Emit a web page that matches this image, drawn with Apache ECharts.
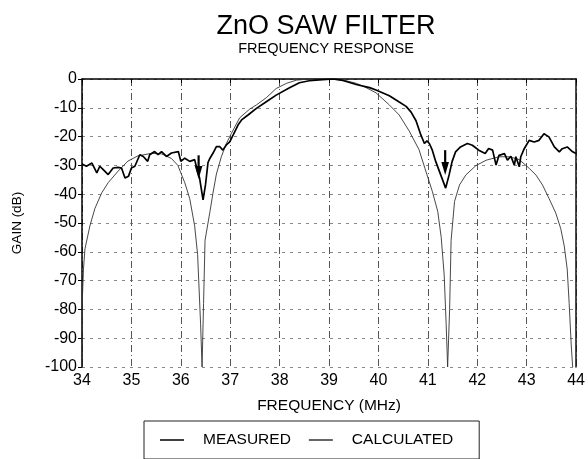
<!DOCTYPE html>
<html>
<head>
<meta charset="utf-8">
<script src="https://cdn.jsdelivr.net/npm/echarts@6/dist/echarts.min.js"></script>
<style>
  html, body { margin: 0; padding: 0; background: #fff; }
  #chart { width: 588px; height: 459px; }
</style>
</head>
<body>
<div id="chart"></div>
<script>
// Measured response of the ZnO SAW filter (frequency in MHz, gain in dB)
const measuredFreq = [
  34.00, 34.09, 34.20, 34.30, 34.36, 34.43, 34.53, 34.63, 34.73, 34.80,
  34.87, 34.94, 35.00, 35.07, 35.17, 35.24, 35.33, 35.37, 35.47, 35.54,
  35.61, 35.71, 35.81, 35.95, 36.00, 36.08, 36.18, 36.28, 36.34, 36.38,
  36.45, 36.50, 36.55, 36.59, 36.65, 36.72, 36.79, 36.85, 36.92, 36.99,
  37.06, 37.16, 37.23, 37.36, 37.53, 37.73, 37.93, 38.20, 38.40, 38.60,
  38.87, 39.08, 39.28, 39.55, 39.82, 39.95, 40.22, 40.42, 40.56, 40.66,
  40.76, 40.86, 40.93, 40.98, 41.03, 41.09, 41.16, 41.26, 41.36, 41.43,
  41.49, 41.56, 41.66, 41.80, 41.90, 42.03, 42.16, 42.23, 42.31, 42.38,
  42.44, 42.55, 42.61, 42.68, 42.75, 42.78, 42.85, 42.88, 42.95, 43.05,
  43.15, 43.25, 43.35, 43.45, 43.56, 43.66, 43.72, 43.82, 43.93, 44.00
];
const measuredGain = [
  -29.5, -30.3, -29.2, -32.6, -30.3, -31.5, -33.2, -30.9, -30.7, -30.9,
  -34.4, -33.8, -30.9, -30.3, -26.3, -26.9, -28.6, -26.3, -25.2, -26.3,
  -25.2, -26.9, -25.7, -25.2, -28.6, -27.5, -28.6, -28.0, -32.1, -34.4,
  -42.0, -36.7, -29.0, -27.5, -25.8, -23.5, -23.5, -24.7, -22.9, -21.8,
  -19.4, -15.9, -14.2, -12.5, -10.2, -7.9, -5.6, -3.0, -1.3, -0.6,
  -0.2, 0.0, -0.5, -1.9, -3.0, -3.8, -5.8, -8.0, -9.5, -11.5,
  -14.5, -19.5, -22.4, -21.5, -22.4, -24.7, -28.7, -33.3, -37.9, -33.3,
  -28.7, -25.3, -23.6, -22.4, -23.0, -24.7, -25.9, -24.1, -24.7, -29.9,
  -26.5, -25.9, -28.2, -26.8, -29.9, -27.0, -30.5, -27.0, -24.2, -21.3,
  -21.9, -21.3, -19.0, -20.1, -23.6, -25.3, -24.2, -23.6, -25.3, -25.9
];

// Calculated response
const calculatedFreq = [
  34.00, 34.01, 34.03, 34.06, 34.16, 34.26, 34.40, 34.53, 34.73, 34.93,
  35.13, 35.41, 35.61, 35.81, 35.94, 36.08, 36.18, 36.28, 36.34, 36.40,
  36.43, 36.46, 36.49, 36.59, 36.65, 36.72, 36.82, 36.92, 37.02, 37.19,
  37.39, 37.53, 37.73, 37.93, 38.14, 38.34, 38.60, 39.00, 39.30, 39.55,
  39.75, 39.95, 40.22, 40.42, 40.62, 40.82, 40.94, 41.09, 41.20, 41.27,
  41.33, 41.37, 41.40, 41.44, 41.47, 41.54, 41.64, 41.77, 41.97, 42.18,
  42.44, 42.65, 42.85, 43.05, 43.19, 43.32, 43.45, 43.59, 43.69, 43.76,
  43.82, 43.86, 43.90, 43.93
];
const calculatedGain = [
  -100, -75, -66, -59, -51, -45, -39.5, -36, -32, -28.5,
  -26.7, -25.8, -26, -27.6, -30, -36, -41.5, -51, -61, -85,
  -100, -78, -56, -46, -39.7, -33, -27, -22.5, -19, -13.5,
  -10.5, -9, -6.5, -3.3, -1.5, -0.4, 0, 0, -0.4, -1.5,
  -3, -4.8, -9, -12.5, -18, -24.5, -31, -39, -46, -55,
  -68, -85, -100, -80, -56, -42.5, -36.8, -33.3, -30.1, -28.2,
  -27, -27, -28, -31, -33.4, -36.8, -41.4, -46.6, -52, -58,
  -66, -78, -92, -100
];

// Annotation arrows over the two measured notches: frequency, tail gain, tip gain
const arrowFreq = [36.36, 41.35];
const arrowTail = [-26.5, -24.7];
const arrowTip = [-34.7, -33.3];

// Axis ticks
const freqTicks = [34, 35, 36, 37, 38, 39, 40, 41, 42, 43, 44];
const gainTicks = [0, -10, -20, -30, -40, -50, -60, -70, -80, -90, -100];

const zip = (xs, ys) => xs.map((x, i) => [x, ys[i]]);
const FONT = '"Liberation Sans", Arial, Helvetica, sans-serif';

const chart = echarts.init(document.getElementById('chart'), null, { renderer: 'canvas' });

chart.setOption({
  backgroundColor: '#ffffff',
  animation: false,
  title: {
    text: 'ZnO SAW FILTER',
    subtext: 'FREQUENCY RESPONSE',
    left: 321,
    textAlign: 'center',
    top: 8,
    itemGap: 1,
    textStyle: { fontFamily: FONT, fontSize: 27, fontWeight: 'normal', color: '#000' },
    subtextStyle: { fontFamily: FONT, fontSize: 14.5, color: '#000' }
  },
  legend: {
    data: [
      { name: 'MEASURED', itemStyle: { color: '#000' } },
      { name: 'CALCULATED', itemStyle: { color: '#333' } }
    ],
    icon: 'rect',
    left: 144,
    top: 421,
    orient: 'horizontal',
    itemWidth: 24,
    itemHeight: 1.5,
    itemGap: 18,
    padding: [11, 26, 11, 16],
    borderColor: '#222',
    borderWidth: 1,
    textStyle: { fontFamily: FONT, fontSize: 15.5, color: '#000', padding: [0, 0, 0, 14] }
  },
  grid: {
    left: 82,
    right: 11,
    top: 79,
    bottom: 92,
    show: false
  },
  xAxis: {
    type: 'value',
    min: freqTicks[0],
    max: freqTicks[freqTicks.length - 1],
    interval: 1,
    name: 'FREQUENCY (MHz)',
    nameLocation: 'middle',
    nameGap: 31,
    nameTextStyle: { fontFamily: FONT, fontSize: 15.5, color: '#000' },
    axisLine: { show: true, lineStyle: { color: '#000', width: 1.5 } },
    axisTick: { show: true, length: 4, inside: false, lineStyle: { color: '#000' } },
    axisLabel: {
      fontFamily: FONT, fontSize: 16, color: '#000', margin: 6,
      formatter: v => String(v)
    },
    splitLine: {
      show: true,
      lineStyle: { color: '#555', width: 1, type: [7, 3, 1, 3] }
    }
  },
  yAxis: [
    {
      type: 'value',
      min: gainTicks[gainTicks.length - 1],
      max: gainTicks[0],
      interval: 10,
      name: 'GAIN (dB)',
      nameLocation: 'middle',
      nameGap: 58,
      nameRotate: 90,
      nameTextStyle: { fontFamily: FONT, fontSize: 13.5, color: '#000' },
      axisLine: { show: true, lineStyle: { color: '#000', width: 1.5 } },
      axisTick: { show: true, length: 4, lineStyle: { color: '#000' } },
      axisLabel: { fontFamily: FONT, fontSize: 16, color: '#000', margin: 5 },
      splitLine: {
        show: true,
        lineStyle: { color: '#888', width: 1, type: [3, 5] }
      }
    },
    {
      type: 'value',
      position: 'right',
      min: gainTicks[gainTicks.length - 1],
      max: gainTicks[0],
      interval: 10,
      axisLine: { show: true, lineStyle: { color: '#111', width: 1.5 } },
      axisTick: { show: false },
      axisLabel: { show: false },
      splitLine: { show: false }
    }
  ],
  series: [
    {
      name: 'CALCULATED',
      type: 'line',
      data: zip(calculatedFreq, calculatedGain),
      showSymbol: false,
      symbol: 'none',
      clip: true,
      lineStyle: { color: '#333', width: 0.9 },
      itemStyle: { color: '#333' },
      z: 3
    },
    {
      name: 'MEASURED',
      type: 'line',
      data: zip(measuredFreq, measuredGain),
      showSymbol: false,
      symbol: 'none',
      clip: true,
      lineStyle: { color: '#000', width: 1.7 },
      itemStyle: { color: '#000' },
      z: 4
    },
    {
      name: 'arrows',
      type: 'custom',
      data: arrowFreq.map((f, i) => [f, arrowTail[i], arrowTip[i]]),
      z: 5,
      renderItem: (params, api) => {
        const tail = api.coord([api.value(0), api.value(1)]);
        const tip = api.coord([api.value(0), api.value(2)]);
        const headLen = 13;
        const halfW = 3.8;
        return {
          type: 'group',
          children: [
            {
              type: 'line',
              shape: { x1: tail[0], y1: tail[1], x2: tip[0], y2: tip[1] - headLen + 1 },
              style: { stroke: '#000', lineWidth: 2.2 }
            },
            {
              type: 'polygon',
              shape: {
                points: [
                  [tip[0] - halfW, tip[1] - headLen],
                  [tip[0] + halfW, tip[1] - headLen],
                  [tip[0], tip[1]]
                ]
              },
              style: { fill: '#000' }
            }
          ]
        };
      }
    }
  ]
});
</script>
</body>
</html>
